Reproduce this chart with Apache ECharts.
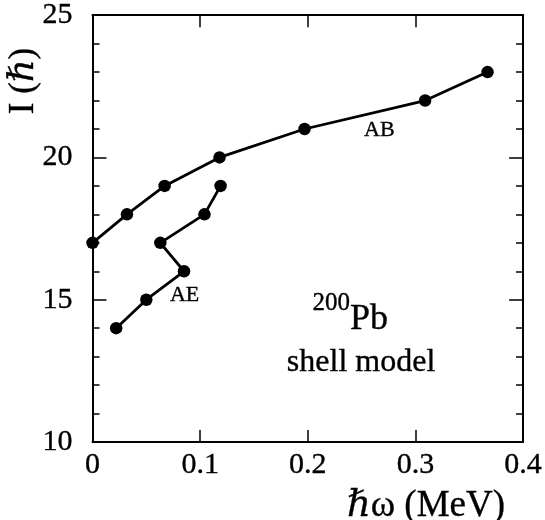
<!DOCTYPE html>
<html><head><meta charset="utf-8">
<script src="https://cdn.jsdelivr.net/npm/echarts@6/dist/echarts.min.js"></script>
<style>html,body{margin:0;padding:0;background:#fff}#c{width:545px;height:520px}</style>
</head><body><div id="c"></div>
<script>
// Data
const abOmega = [0.0, 0.032, 0.067, 0.118, 0.197, 0.309, 0.367];
const abSpin  = [17, 18, 19, 20, 21, 22, 23];
const aeOmega = [0.022, 0.050, 0.085, 0.063, 0.104, 0.119];
const aeSpin  = [14, 15, 16, 17, 18, 19];
const xTickValues = [0, 0.1, 0.2, 0.3, 0.4];
const yTickValues = [10, 15, 20, 25];
const annoText = ['AB', 'AE', '{sup|200}{main|Pb}', 'shell model'];
const annoX = [0.2665, 0.0856, 0.2394, 0.2495];
const annoY = [20.97, 15.16, 14.5, 12.79];
const xTitle = 'ℏω (MeV)';
const yTitle = 'I (ℏ)';

const FONT = '"Liberation Serif", "DejaVu Serif", serif';
const STROKE = {textBorderColor: '#000', textBorderWidth: 0.35};
const chart = echarts.init(document.getElementById('c'), null, {renderer: 'canvas'});

const xMin = xTickValues[0], xMax = xTickValues[xTickValues.length - 1];
const yMin = yTickValues[0], yMax = yTickValues[yTickValues.length - 1];

function xAxisDef(pos, showLabel) {
  return {
    type: 'value', position: pos, min: xMin, max: xMax, interval: 0.1,
    axisLine: {show: true, onZero: false, lineStyle: {color: '#000', width: 2}},
    axisTick: {show: true, inside: true, length: 12, lineStyle: {color: '#000', width: 1.5}},
    axisLabel: Object.assign({show: showLabel, color: '#000', fontFamily: FONT, fontSize: 30, margin: 8,
      formatter: v => String(+v.toFixed(1))}, STROKE),
    splitLine: {show: false}
  };
}
function yAxisDef(pos, showLabel) {
  return {
    type: 'value', position: pos, min: yMin, max: yMax, interval: 5,
    axisLine: {show: true, onZero: false, lineStyle: {color: '#000', width: 2}},
    axisTick: {show: true, inside: true, length: 14, lineStyle: {color: '#000', width: 1.5}},
    minorTick: {show: true, splitNumber: 5, length: 7, lineStyle: {color: '#000', width: 1.5}},
    axisLabel: Object.assign({show: showLabel, color: '#000', fontFamily: FONT, fontSize: 30, margin: 20}, STROKE),
    splitLine: {show: false}, minorSplitLine: {show: false}
  };
}

const lineStyle = {color: '#000', width: 2.8};
const annoSizes = [22, 22, 36, 32];
const annoData = annoText.map((t, i) => ({
  value: [annoX[i], annoY[i]],
  label: {fontSize: annoSizes[i]}
}));

chart.setOption({
  animation: false,
  backgroundColor: '#fff',
  grid: {left: 92.5, right: 19, top: 15, bottom: 78, containLabel: false},
  xAxis: [xAxisDef('bottom', true), xAxisDef('top', false)],
  yAxis: [yAxisDef('left', true), yAxisDef('right', false)],
  series: [
    {name: 'AB', type: 'line', xAxisIndex: 0, yAxisIndex: 0, clip: false,
     data: abOmega.map((x, i) => [x, abSpin[i]]),
     symbol: 'circle', symbolSize: 12.5, showSymbol: true,
     lineStyle: lineStyle, itemStyle: {color: '#000'}, z: 3},
    {name: 'AE', type: 'line', xAxisIndex: 0, yAxisIndex: 0, clip: false,
     data: aeOmega.map((x, i) => [x, aeSpin[i]]),
     symbol: 'circle', symbolSize: 12.5, showSymbol: true,
     lineStyle: lineStyle, itemStyle: {color: '#000'}, z: 3},
    {name: 'labels', type: 'scatter', xAxisIndex: 0, yAxisIndex: 0,
     symbolSize: 0, data: annoData, silent: true, itemStyle: {opacity: 1, color: '#000'},
     label: Object.assign({show: true, position: 'inside', color: '#000', opacity: 1, fontFamily: FONT,
       formatter: p => annoText[p.dataIndex],
       rich: {
         sup: Object.assign({fontSize: 25, fontFamily: FONT, color: '#000', verticalAlign: 'bottom', padding: [0, 0, 22, 0]}, STROKE),
         main: Object.assign({fontSize: 36, fontFamily: FONT, color: '#000', verticalAlign: 'bottom'}, STROKE)
       }}, STROKE)}
  ],
  graphic: [
    {type: 'text', x: 24, y: 81, rotation: Math.PI / 2,
     style: {text: yTitle, fontFamily: FONT, fontSize: 35, fill: '#000', align: 'center', verticalAlign: 'middle',
       stroke: '#000', lineWidth: 0.35}},
    {type: 'text', x: 426, y: 506,
     style: {text: xTitle, fontFamily: FONT, fontSize: 37, fill: '#000', align: 'center', verticalAlign: 'middle',
       stroke: '#000', lineWidth: 0.35}}
  ]
});
</script>
</body></html>
